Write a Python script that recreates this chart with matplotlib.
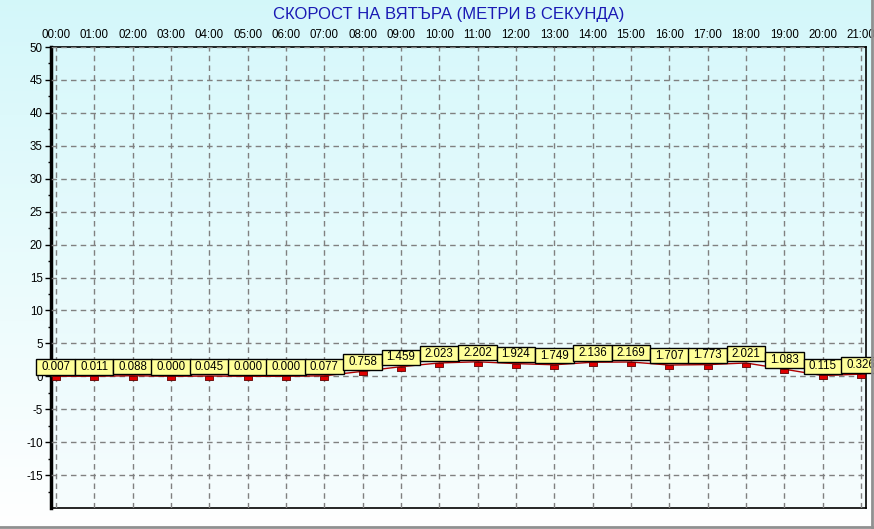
import numpy as np
import matplotlib
matplotlib.use("Agg")
import matplotlib.pyplot as plt
from matplotlib.path import Path
from matplotlib.transforms import ScaledTranslation
from matplotlib.lines import Line2D

plt.rcParams['font.family'] = ['Liberation Sans', 'DejaVu Sans']

hours = ["00:00", "01:00", "02:00", "03:00", "04:00", "05:00", "06:00", "07:00",
         "08:00", "09:00", "10:00", "11:00", "12:00", "13:00", "14:00", "15:00",
         "16:00", "17:00", "18:00", "19:00", "20:00", "21:00"]
wind = [0.007, 0.011, 0.088, 0.000, 0.045, 0.000, 0.000, 0.077, 0.758, 1.459,
        2.023, 2.202, 1.924, 1.749, 2.136, 2.169, 1.707, 1.773, 2.021, 1.083,
        0.115, 0.326]
yticks = [50, 45, 40, 35, 30, 25, 20, 15, 10, 5, 0, -5, -10, -15]
title = "СКОРОСТ НА ВЯТЪРА (МЕТРИ В СЕКУНДА)"

W, H = 874, 529
fig = plt.figure(figsize=(W / 100, H / 100), dpi=100)

# figure background gradient
bg = fig.add_axes([0, 0, 1, 1], zorder=-10)
grad = np.linspace(0, 1, 256).reshape(-1, 1)
top_c = np.array([0.83, 0.97, 0.98])
bot_c = np.array([1.0, 1.0, 1.0])
img = top_c[None, None, :] * (1 - grad[:, :, None]) + bot_c[None, None, :] * grad[:, :, None]
bg.imshow(img, aspect='auto', extent=[0, 1, 0, 1], origin='upper')
bg.set_xlim(0, 1); bg.set_ylim(0, 1)
bg.axis('off')

x = np.arange(len(wind))
left, right, top, bottom = 51, 865.5, 47, 508
ax = fig.add_axes([left / W, 1 - bottom / H, (right - left) / W, (bottom - top) / H])
ax.set_xlim(-0.13, 21.12)
ax.set_ylim(-20, 50)

# axes background gradient
top_a = np.array([0.85, 0.975, 0.985])
bot_a = np.array([0.965, 0.99, 0.995])
img2 = top_a[None, None, :] * (1 - grad[:, :, None]) + bot_a[None, None, :] * grad[:, :, None]
ax.imshow(img2, aspect='auto', extent=[-0.13, 21.12, -20, 50], origin='upper', zorder=0)

ax.set_xticks(x)
ax.set_xticklabels(hours)
ax.xaxis.tick_top()
ax.tick_params(axis='x', length=0, pad=4, labelsize=8.3)
ax.set_yticks(yticks)
ax.set_yticklabels([str(v) for v in yticks])
ax.set_yticks(np.arange(-17.5, 50, 5), minor=True)
ax.tick_params(axis='y', which='major', length=4, width=1, pad=2, labelsize=8.3)
ax.tick_params(axis='y', which='minor', length=2, width=1)

ax.grid(True, color='#808080', linestyle=(0, (4, 3)), linewidth=1, zorder=1)
ax.set_axisbelow(False)
for s in ['top', 'bottom', 'right']:
    ax.spines[s].set_linewidth(1.2)
    ax.spines[s].set_color('black')
ax.spines['left'].set_linewidth(2.5)

ax.plot(x, wind, color='#b00000', linewidth=1, zorder=3)
rect = Path([(-1, -0.45), (1, -0.45), (1, 0.45), (-1, 0.45), (-1, -0.45)])
off = ax.transData + ScaledTranslation(0, -1.9 / 100, fig.dpi_scale_trans)
ax.plot(x, wind, linestyle='none', marker=rect, markersize=5.9,
        markerfacecolor='#e00000', markeredgecolor='#600000', markeredgewidth=0.6,
        transform=off, zorder=4)


def label_box(x0, y0, width, height, mutation_size):
    # horizontal padding ~5 px, small vertical padding
    px, py = 5.0, 1.6
    return Path([(x0 - px, y0 - py), (x0 + width + px, y0 - py),
                 (x0 + width + px, y0 + height + py), (x0 - px, y0 + height + py),
                 (x0 - px, y0 - py)], closed=True)


for xi, v in zip(x, wind):
    ax.annotate(f"{v:.3f}", (xi, v), xytext=(0, 2.3), textcoords='offset points',
                ha='center', va='bottom', fontsize=8.3, zorder=5, annotation_clip=False,
                bbox=dict(boxstyle=label_box, facecolor='#ffff99',
                          edgecolor='black', linewidth=1))

fig.text(449 / W, 1 - 15 / H, title, ha='center', va='center', fontsize=12,
         color='#1a1ab4')

# outer frame lines (right and bottom)
fig.add_artist(Line2D([871.5 / W, 871.5 / W], [0, 1], color='#909090', linewidth=2))
fig.add_artist(Line2D([0, 1], [1 - 527 / H, 1 - 527 / H], color='#909090', linewidth=2))

fig.savefig("out.png", dpi=100)
